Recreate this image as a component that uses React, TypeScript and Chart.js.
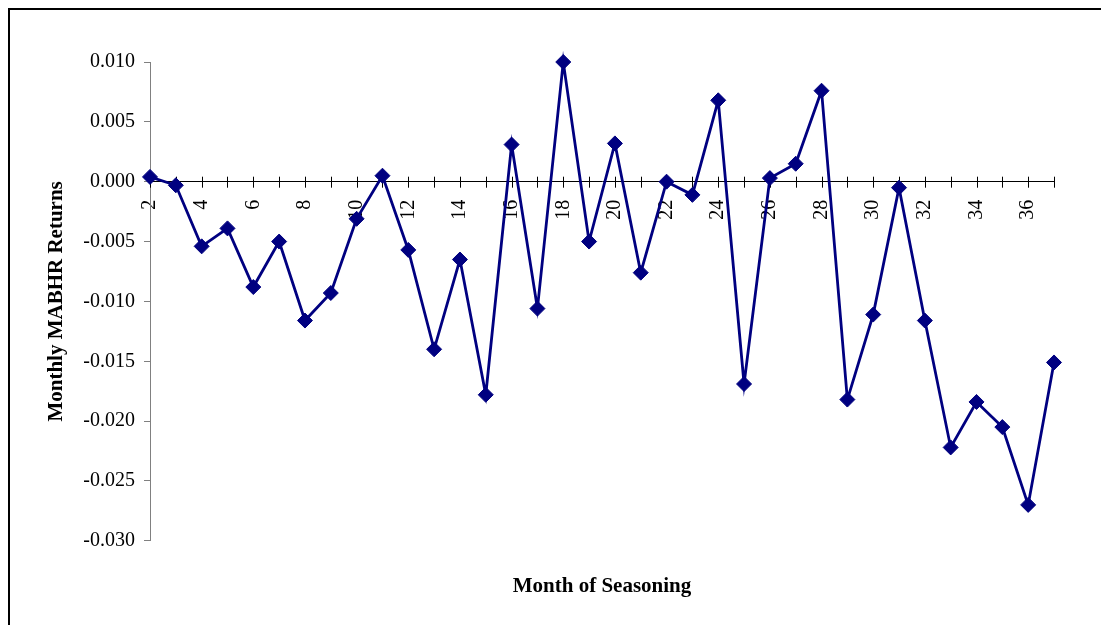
import React, { useEffect, useRef } from "react";
import { Chart, registerables } from "chart.js";

Chart.register(...registerables);

const months = [2, 3, 4, 5, 6, 7, 8, 9, 10, 11, 12, 13, 14, 15, 16, 17, 18, 19, 20, 21, 22, 23, 24, 25, 26, 27, 28, 29, 30, 31, 32, 33, 34, 35, 36, 37];
const returns = [
  0.0004, -0.0003, -0.0054, -0.0039, -0.0088, -0.005, -0.0116, -0.0093, -0.0031, 0.0005,
  -0.0057, -0.014, -0.0065, -0.0178, 0.0031, -0.0106, 0.01, -0.005, 0.0032, -0.0076,
  0.0, -0.0011, 0.0068, -0.0169, 0.0003, 0.0015, 0.0076, -0.0182, -0.0111, -0.0005,
  -0.0116, -0.0222, -0.0184, -0.0205, -0.027, -0.0151,
];
const yMin = -0.03;
const yMax = 0.01;
const yStep = 0.005;
const xTitle = "Month of Seasoning";
const yTitle = "Monthly MABHR Returns";

const FONT = "'Times New Roman', 'Liberation Serif', serif";

const crossTicks = {
  id: "crossTicks",
  beforeDatasetsDraw(chart: any) {
    const xs = chart.scales.x;
    const ys = chart.scales.y;
    const y0 = ys.getPixelForValue(0);
    const ctx = chart.ctx;
    ctx.save();
    ctx.strokeStyle = "#000";
    ctx.lineWidth = 1;
    ctx.beginPath();
    for (const m of months) {
      const x = Math.round(xs.getPixelForValue(m)) + 0.5;
      ctx.moveTo(x, y0 - 5);
      ctx.lineTo(x, y0 + 6);
    }
    ctx.stroke();
    ctx.restore();
  },
};

export default function App() {
  const ref = useRef<HTMLCanvasElement | null>(null);
  useEffect(() => {
    document.documentElement.style.overflow = "hidden";
    document.body.style.overflow = "hidden";
    document.body.style.margin = "8px 0 0 8px";
    if (!ref.current) return;
    const chart = new Chart(ref.current, {
      type: "line",
      data: {
        datasets: [
          {
            data: months.map((m, i) => ({ x: m, y: returns[i] })),
            borderColor: "#000080",
            backgroundColor: "#000080",
            borderWidth: 2.8,
            pointStyle: "rectRot",
            pointRadius: 7.5,
            pointBorderWidth: 1,
            pointBackgroundColor: "#000080",
            pointBorderColor: "#000080",
            tension: 0,
            clip: false,
          },
        ],
      },
      options: {
        animation: false,
        responsive: false,
        devicePixelRatio: 1,
        layout: { padding: { left: 30, right: 47, top: 52, bottom: 0 } },
        plugins: {
          legend: { display: false },
          tooltip: { enabled: false },
          title: {
            display: true,
            position: "bottom",
            fullSize: false,
            text: xTitle,
            color: "#000",
            font: { family: FONT, size: 21, weight: "bold" },
            padding: { top: 33, bottom: 26 },
          },
        },
        scales: {
          x: {
            type: "linear",
            position: { y: 0 },
            min: months[0],
            max: months[months.length - 1],
            grid: { display: true, drawOnChartArea: false, drawTicks: false },
            border: { display: true, color: "#000", width: 1 },
            ticks: {
              stepSize: 1,
              autoSkip: false,
              minRotation: 90,
              maxRotation: 90,
              padding: 18,
              color: "#000",
              font: { family: FONT, size: 20 },
              callback: (v: any) => (Number(v) % 2 === 0 && Number(v) <= 36 ? String(v) : ""),
            },
          },
          y: {
            type: "linear",
            position: "left",
            min: yMin,
            max: yMax,
            afterFit: (s: any) => {
              s.width = 110;
            },
            grid: { display: true, drawOnChartArea: false, drawTicks: true, tickLength: 6, color: "#808080" },
            border: { display: true, color: "#808080", width: 1 },
            title: {
              display: true,
              text: yTitle,
              color: "#000",
              font: { family: FONT, size: 21, weight: "bold" },
              padding: { top: 4, bottom: 4 },
            },
            ticks: {
              stepSize: yStep,
              padding: 9,
              color: "#000",
              font: { family: FONT, size: 20 },
              callback: (v: any) => Number(v).toFixed(3),
            },
          },
        },
      },
      plugins: [crossTicks],
    });
    return () => chart.destroy();
  }, []);
  return (
    <div
      style={{
        width: 1093,
        height: 617,
        boxSizing: "border-box",
        borderLeft: "2px solid #000",
        borderTop: "2px solid #000",
        background: "#fff",
      }}
    >
      <canvas ref={ref} width={1091} height={615} style={{ display: "block" }} />
    </div>
  );
}
